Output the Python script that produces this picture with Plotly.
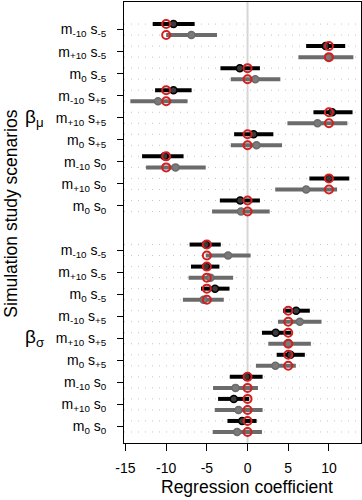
import plotly.graph_objects as go

# Scenario labels (top to bottom within each block)
scenarios = ["m<sub>-10</sub> s<sub>-5</sub>", "m<sub>+10</sub> s<sub>-5</sub>", "m<sub>0</sub> s<sub>-5</sub>",
             "m<sub>-10</sub> s<sub>+5</sub>", "m<sub>+10</sub> s<sub>+5</sub>", "m<sub>0</sub> s<sub>+5</sub>",
             "m<sub>-10</sub> s<sub>0</sub>", "m<sub>+10</sub> s<sub>0</sub>", "m<sub>0</sub> s<sub>0</sub>"]

# beta_mu block
mu_true = [-10, 10, 0, -10, 10, 0, -10, 10, 0]
mu_black_est = [-9.1, 9.6, -0.95, -9.1, 10.4, 0.74, -10.2, 10.0, -0.9]
mu_black_lo = [-11.65, 7.2, -3.33, -11.36, 8.1, -1.65, -12.96, 7.6, -3.4]
mu_black_hi = [-6.5, 12.0, 1.52, -6.87, 12.9, 3.17, -7.86, 12.5, 1.52]
mu_gray_est = [-6.9, 9.9, 0.95, -11.0, 8.6, 1.1, -8.85, 7.2, -0.8]
mu_gray_lo = [-10.0, 6.25, -2.06, -14.4, 4.9, -2.06, -12.47, 3.4, -4.36]
mu_gray_hi = [-3.75, 13.0, 4.03, -7.37, 12.26, 4.24, -5.14, 11.0, 2.72]

# beta_sigma block
sig_true = [-5, -5, -5, 5, 5, 5, 0, 0, 0]
sig_black_est = [-5.14, -5.1, -4.0, 5.97, 3.46, 5.27, -0.12, -1.69, -0.66]
sig_black_lo = [-7.12, -6.95, -5.72, 4.36, 1.77, 3.58, -2.18, -3.62, -2.47]
sig_black_hi = [-3.29, -3.46, -2.22, 7.65, 5.35, 7.04, 1.85, 0.21, 1.11]
sig_gray_est = [-2.39, -4.57, -5.4, 6.42, 5.0, 3.42, -1.48, -1.11, -1.28]
sig_gray_lo = [-5.14, -7.24, -7.94, 3.74, 2.55, 1.03, -4.24, -4.03, -4.28]
sig_gray_hi = [0.37, -1.77, -2.92, 9.09, 7.78, 5.93, 1.28, 1.85, 1.77]

x_ticks = [-15, -10, -5, 0, 5, 10]

BLACK = "#000000"
GRAY = "#6b6b6b"
RED = "#d21f1f"
FONT = "Liberation Sans, Arial, Helvetica, sans-serif"

n = len(scenarios)
mu_black_rows = [38 - 2 * i for i in range(n)]
mu_gray_rows = [37 - 2 * i for i in range(n)]
sig_black_rows = [18 - 2 * i for i in range(n)]
sig_gray_rows = [17 - 2 * i for i in range(n)]

black_rows = mu_black_rows + sig_black_rows
gray_rows = mu_gray_rows + sig_gray_rows
black_est = mu_black_est + sig_black_est
black_lo = mu_black_lo + sig_black_lo
black_hi = mu_black_hi + sig_black_hi
gray_est = mu_gray_est + sig_gray_est
gray_lo = mu_gray_lo + sig_gray_lo
gray_hi = mu_gray_hi + sig_gray_hi
true_vals = mu_true + sig_true


def segs(lo, hi, rows):
    xs, ys = [], []
    for a, b, r in zip(lo, hi, rows):
        xs += [a, b, None]
        ys += [r, r, None]
    return xs, ys


fig = go.Figure()

# dotted row gridlines
for r in black_rows + gray_rows:
    fig.add_shape(type="line", xref="paper", yref="y", x0=0, x1=1, y0=r, y1=r,
                  line=dict(color="#c4c4c4", width=1, dash="1px,6px"), layer="below")
# zero reference line
fig.add_shape(type="line", xref="x", yref="paper", x0=0, x1=0, y0=0, y1=1,
              line=dict(color="#d6d6d6", width=2), layer="below")

bx, by = segs(black_lo, black_hi, black_rows)
gx, gy = segs(gray_lo, gray_hi, gray_rows)
fig.add_trace(go.Scatter(x=bx, y=by, mode="lines", line=dict(color=BLACK, width=4),
                         hoverinfo="skip", showlegend=False))
fig.add_trace(go.Scatter(x=gx, y=gy, mode="lines", line=dict(color=GRAY, width=4),
                         hoverinfo="skip", showlegend=False))
fig.add_trace(go.Scatter(x=black_est, y=black_rows, mode="markers",
                         marker=dict(symbol="circle", size=7, color="#3a3a3a",
                                     line=dict(color=BLACK, width=1.5)), showlegend=False))
fig.add_trace(go.Scatter(x=gray_est, y=gray_rows, mode="markers",
                         marker=dict(symbol="circle", size=7, color="#7a7a7a",
                                     line=dict(color=GRAY, width=1.5)), showlegend=False))
fig.add_trace(go.Scatter(x=true_vals + true_vals, y=black_rows + gray_rows, mode="markers",
                         marker=dict(symbol="circle-open", size=8, color=RED,
                                     line=dict(color=RED, width=2)), showlegend=False))

tickvals = [r - 0.5 for r in mu_black_rows] + [r - 0.5 for r in sig_black_rows]
ticktext = scenarios + scenarios

fig.update_layout(
    width=362, height=500,
    margin=dict(l=124, r=1, t=2, b=57),
    paper_bgcolor="white", plot_bgcolor="white",
    font=dict(family=FONT, size=14, color="black"),
    showlegend=False,
    xaxis=dict(range=[-15.18, 13.94], tickvals=x_ticks, ticktext=[str(v) for v in x_ticks],
               showgrid=False, zeroline=False, ticks="outside", ticklen=7, tickwidth=1,
               tickcolor="black", showline=True, mirror=True, linecolor="black", linewidth=1,
               ticklabelstandoff=5, tickfont=dict(size=14)),
    yaxis=dict(range=[0, 40], tickvals=tickvals, ticktext=ticktext,
               showgrid=False, zeroline=False, ticks="outside", ticklen=6, tickwidth=1,
               tickcolor="black", showline=True, mirror=True, linecolor="black", linewidth=1,
               ticklabelstandoff=8, tickfont=dict(size=14)),
)

annotations = [
    dict(text="Regression coefficient", xref="paper", yref="paper", x=0.52, y=0,
         xanchor="center", yanchor="middle", yshift=-44, showarrow=False,
         font=dict(size=17.5)),
    dict(text="Simulation study scenarios", xref="paper", yref="paper", x=0, y=0.52,
         xanchor="center", yanchor="middle", xshift=-113, textangle=-90, showarrow=False,
         font=dict(size=17.5)),
    dict(text="β<sub>μ</sub>", xref="paper", yref="y", x=0, y=29.5, xanchor="center",
         yanchor="middle", xshift=-90, showarrow=False, font=dict(size=19)),
    dict(text="β<sub>σ</sub>", xref="paper", yref="y", x=0, y=9.5, xanchor="center",
         yanchor="middle", xshift=-90, showarrow=False, font=dict(size=19)),
]
fig.update_layout(annotations=annotations)

fig.write_html("out.html", config={"displayModeBar": False},
               post_script="document.body.style.margin='0';document.body.style.padding='0';")
